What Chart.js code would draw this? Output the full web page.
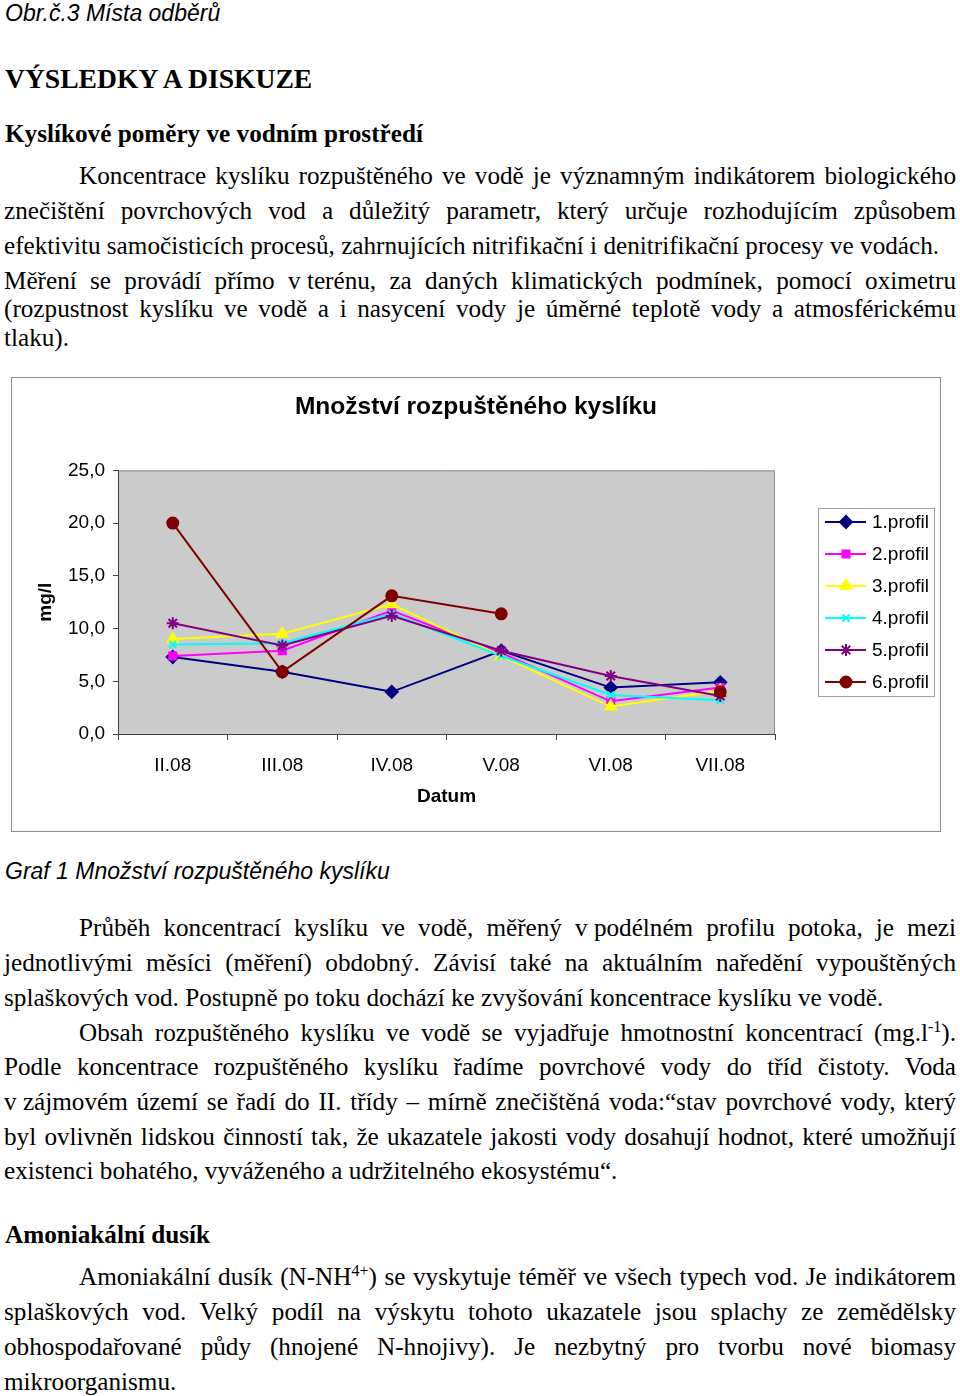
<!DOCTYPE html>
<html>
<head>
<meta charset="utf-8">
<script src="https://cdn.jsdelivr.net/npm/chart.js"></script>
<style>
  body { margin: 0; background: #fff; width: 960px; height: 1396px; position: relative; overflow: hidden; }
  .t { position: absolute; font-family: "Liberation Serif", "Times New Roman", serif; font-size: 25.2px; line-height: 25px; white-space: nowrap; color: #000; }
  .j { text-align: justify; text-align-last: justify; white-space: normal; height: 25px; }
  .b { font-weight: bold; }
  .s { font-family: "Liberation Sans", Arial, sans-serif; font-style: italic; font-size: 23px; line-height: 23px; }
  .nb { display: inline-block; }
  sup { font-size: 16px; line-height: 0; vertical-align: 9px; }
  #wrap { position: absolute; left: 11px; top: 377px; width: 930px; height: 455px; }
</style>
</head>
<body>
<div class="t s" style="left:5px;top:2px">Obr.č.3 Místa odběrů</div>
<div class="t b" style="left:5px;top:65px;font-size:27.6px;line-height:28px">VÝSLEDKY A DISKUZE</div>
<div class="t b" style="left:5px;top:121px">Kyslíkové poměry ve vodním prostředí</div>

<div class="t j" style="left:79px;width:877px;top:163px">Koncentrace kyslíku rozpuštěného ve vodě je významným indikátorem biologického</div>
<div class="t j" style="left:4px;width:952px;top:198px">znečištění povrchových vod a důležitý parametr, který určuje rozhodujícím způsobem</div>
<div class="t" style="left:4px;top:233px">efektivitu samočisticích procesů, zahrnujících nitrifikační i denitrifikační procesy ve vodách.</div>
<div class="t j" style="left:4px;width:952px;top:268px">Měření se provádí přímo <span class="nb">v terénu,</span> za daných klimatických podmínek, pomocí oximetru</div>
<div class="t j" style="left:4px;width:952px;top:296px">(rozpustnost kyslíku ve vodě a i nasycení vody je úměrné teplotě vody a atmosférickému</div>
<div class="t" style="left:4px;top:325px">tlaku).</div>

<div id="wrap"><canvas id="chart" width="930" height="455"></canvas></div>

<div class="t s" style="left:5px;top:860px">Graf 1 Množství rozpuštěného kyslíku</div>

<div class="t j" style="left:79px;width:877px;top:915px">Průběh koncentrací kyslíku ve vodě, měřený <span class="nb">v podélném</span> profilu potoka, je mezi</div>
<div class="t j" style="left:4px;width:952px;top:950px">jednotlivými měsíci (měření) obdobný. Závisí také na aktuálním naředění vypouštěných</div>
<div class="t" style="left:4px;top:985px">splaškových vod. Postupně po toku dochází ke zvyšování koncentrace kyslíku ve vodě.</div>
<div class="t j" style="left:79px;width:877px;top:1020px">Obsah rozpuštěného kyslíku ve vodě se vyjadřuje hmotnostní koncentrací (mg.l<sup>-1</sup>).</div>
<div class="t j" style="left:4px;width:952px;top:1054px">Podle koncentrace rozpuštěného kyslíku řadíme povrchové vody do tříd čistoty. Voda</div>
<div class="t j" style="left:4px;width:952px;top:1089px"><span class="nb">v zájmovém</span> území se řadí do II. třídy – mírně znečištěná voda:“stav povrchové vody, který</div>
<div class="t j" style="left:4px;width:952px;top:1124px">byl ovlivněn lidskou činností tak, že ukazatele jakosti vody dosahují hodnot, které umožňují</div>
<div class="t" style="left:4px;top:1158px">existenci bohatého, vyváženého a udržitelného ekosystému“.</div>

<div class="t b" style="left:5px;top:1222px">Amoniakální dusík</div>
<div class="t j" style="left:79px;width:877px;top:1264px">Amoniakální dusík (N-NH<sup>4+</sup>) se vyskytuje téměř ve všech typech vod. Je indikátorem</div>
<div class="t j" style="left:4px;width:952px;top:1299px">splaškových vod. Velký podíl na výskytu tohoto ukazatele jsou splachy ze zemědělsky</div>
<div class="t j" style="left:4px;width:952px;top:1334px">obhospodařované půdy (hnojené N-hnojivy). Je nezbytný pro tvorbu nové biomasy</div>
<div class="t" style="left:4px;top:1369px">mikroorganismu.</div>

<script>
// data (mg/l)
const categories = ['II.08', 'III.08', 'IV.08', 'V.08', 'VI.08', 'VII.08'];
const profil1 = [7.3, 5.9, 4.0, 7.9, 4.4, 4.9];
const profil2 = [7.4, 7.9, 11.7, 7.7, 3.1, 4.4];
const profil3 = [9.0, 9.5, 12.3, 7.4, 2.6, 4.1];
const profil4 = [8.5, 8.6, 11.4, 7.4, 3.7, 3.2];
const profil5 = [10.5, 8.4, 11.2, 7.9, 5.5, 3.6];
const profil6 = [20.0, 5.9, 13.1, 11.4, null, 4.0];
const seriesNames = ['1.profil', '2.profil', '3.profil', '4.profil', '5.profil', '6.profil'];
const yTicks = [0, 5, 10, 15, 20, 25];

const allSeries = [profil1, profil2, profil3, profil4, profil5, profil6];
const colors = ['#000080', '#ff00ff', '#ffff00', '#00ffff', '#800080', '#800000'];
const markers = ['rectRot', 'rect', 'triangle', 'crossRot', 'star', 'circle'];
const radii = [6, 5, 6, 5, 6, 5.5];

const FONT = '"Liberation Sans", Arial, sans-serif';

const datasets = allSeries.map((vals, i) => ({
  label: seriesNames[i],
  data: vals,
  borderColor: colors[i],
  backgroundColor: colors[i],
  borderWidth: 2,
  pointStyle: markers[i],
  pointRadius: radii[i],
  pointBorderWidth: 2,
  pointBorderColor: colors[i],
  pointBackgroundColor: colors[i],
  spanGaps: false,
  tension: 0,
  order: 6 - i
}));

const decor = {
  id: 'decor',
  beforeDraw(chart) {
    const ctx = chart.ctx, a = chart.chartArea;
    ctx.save();
    ctx.fillStyle = '#fff';
    ctx.fillRect(0, 0, chart.width, chart.height);
    ctx.fillStyle = '#cbcbcb';
    ctx.fillRect(a.left, a.top, a.right - a.left, a.bottom - a.top);
    ctx.strokeStyle = '#8c8c8c';
    ctx.lineWidth = 1;
    ctx.beginPath();
    ctx.moveTo(a.left, a.top + 0.5);
    ctx.lineTo(a.right - 0.5, a.top + 0.5);
    ctx.lineTo(a.right - 0.5, a.bottom);
    ctx.stroke();
    ctx.restore();
  },
  afterDraw(chart) {
    const ctx = chart.ctx;
    ctx.save();
    // outer frame
    ctx.strokeStyle = '#8c8c8c';
    ctx.lineWidth = 1;
    ctx.strokeRect(0.5, 0.5, chart.width - 1, chart.height - 1);
    // legend box
    ctx.strokeStyle = '#a0a0a0';
    ctx.strokeRect(807.5, 131.5, 116, 188);
    chart.data.datasets.forEach((ds, i) => {
      const y = 145 + i * 32;
      ctx.strokeStyle = ds.borderColor;
      ctx.fillStyle = ds.backgroundColor;
      ctx.lineWidth = 2;
      ctx.beginPath();
      ctx.moveTo(814, y);
      ctx.lineTo(855, y);
      ctx.stroke();
      if (Chart.helpers && Chart.helpers.drawPoint) {
        Chart.helpers.drawPoint(ctx, { pointStyle: ds.pointStyle, radius: ds.pointRadius, rotation: 0, borderWidth: 2 }, 835, y);
      } else {
        ctx.beginPath();
        ctx.arc(835, y, 5, 0, Math.PI * 2);
        ctx.fill();
      }
      ctx.fillStyle = '#000';
      ctx.font = '19px ' + FONT;
      ctx.textBaseline = 'middle';
      ctx.fillText(ds.label, 861, y + 1);
    });
    ctx.restore();
  }
};

new Chart(document.getElementById('chart'), {
  type: 'line',
  data: { labels: categories, datasets: datasets },
  options: {
    responsive: false,
    animation: false,
    devicePixelRatio: 1,
    layout: { padding: 0 },
    plugins: {
      legend: { display: false },
      tooltip: { enabled: false },
      title: {
        display: true,
        text: 'Množství rozpuštěného kyslíku',
        color: '#000',
        font: { family: FONT, size: 24.5, weight: 'bold' },
        padding: { top: 16, bottom: 48 }
      }
    },
    scales: {
      x: {
        offset: true,
        afterFit(scale) { scale.height = 98; },
        grid: { offset: true, drawOnChartArea: false, drawTicks: true, tickLength: 6, color: '#404040' },
        border: { color: '#404040', width: 1 },
        ticks: { color: '#000', font: { family: FONT, size: 19 }, padding: 14, maxRotation: 0, autoSkip: false },
        title: { display: true, text: 'Datum', color: '#000', font: { family: FONT, size: 19, weight: 'bold' }, padding: { top: 10, bottom: 24 } }
      },
      y: {
        min: 0,
        max: 25,
        afterFit(scale) { scale.width = 107; },
        afterBuildTicks(scale) { scale.ticks = yTicks.map(v => ({ value: v })); },
        grid: { drawOnChartArea: false, drawTicks: true, tickLength: 5, color: '#404040' },
        border: { color: '#404040', width: 1 },
        ticks: {
          color: '#000',
          font: { family: FONT, size: 19 },
          padding: 8,
          callback: v => v.toFixed(1).replace('.', ',')
        },
        title: { display: true, text: 'mg/l', color: '#000', font: { family: FONT, size: 19, weight: 'bold' }, padding: { top: 23, bottom: 0 } }
      },
      // empty right-hand strip that leaves room for the legend box
      legendSpace: {
        type: 'linear',
        position: 'right',
        display: true,
        afterFit(scale) { scale.width = 166; },
        grid: { display: false },
        border: { display: false },
        ticks: { display: false }
      }
    }
  },
  plugins: [decor]
});
</script>
</body>
</html>
